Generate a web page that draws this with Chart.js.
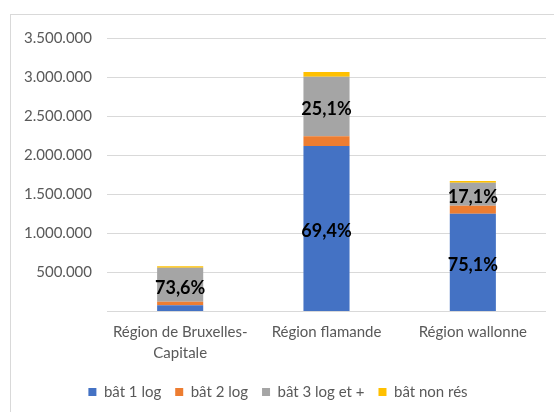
<!DOCTYPE html>
<html>
<head>
<meta charset="utf-8">
<script src="https://cdn.jsdelivr.net/npm/chart.js@4.4.0/dist/chart.umd.min.js"></script>
<style>
  html, body { margin: 0; padding: 0; background: #fff; overflow: hidden; width: 554px; height: 412px; }
  #frame { position: absolute; left: 10px; top: 14px; width: 568px; height: 420px; border-left: 1px solid #d9d9d9; border-top: 1px solid #d9d9d9; }
  #wrap { position: absolute; left: 10px; top: 14px; width: 568px; height: 398px; }
</style>
</head>
<body>
<div id="frame"></div>
<div id="wrap"><canvas id="chart"></canvas></div>
<script>
const regions = [['Région de Bruxelles-', 'Capitale'], 'Région flamande', 'Région wallonne'];
const seriesNames = ['bât 1 log', 'bât 2 log', 'bât 3 log et +', 'bât non rés'];
const bat1 = [80000, 2117000, 1252000];
const bat2 = [45000, 127000, 101000];
const bat3 = [435000, 761000, 295000];
const batNonRes = [20000, 59000, 22000];
const bat1Labels = ['', '69,4%', '75,1%'];
const bat3Labels = ['73,6%', '25,1%', '17,1%'];
const yTicks = [0, 500000, 1000000, 1500000, 2000000, 2500000, 3000000, 3500000];

const colors = ['#4472C4', '#ED7D31', '#A5A5A5', '#FFC000'];
const textGrey = '#595959';
const fontFamily = 'Lato, "Open Sans", sans-serif';

function fmt(v) {
  return String(v).replace(/\B(?=(\d{3})+(?!\d))/g, '.');
}

// percent labels drawn in the middle of their segment
const segmentLabels = {
  id: 'segmentLabels',
  afterDatasetsDraw(chart) {
    const ctx = chart.ctx;
    const sets = { 0: bat1Labels, 2: bat3Labels };
    ctx.save();
    ctx.font = 'bold 18px ' + fontFamily;
    ctx.fillStyle = '#000';
    ctx.textAlign = 'center';
    ctx.textBaseline = 'middle';
    Object.keys(sets).forEach((di) => {
      const meta = chart.getDatasetMeta(+di);
      sets[di].forEach((txt, i) => {
        if (!txt) return;
        const bar = meta.data[i];
        ctx.fillText(txt, bar.x, (bar.y + bar.base) / 2 + 3);
      });
    });
    ctx.restore();
  }
};

new Chart(document.getElementById('chart'), {
  type: 'bar',
  data: {
    labels: regions,
    datasets: [bat1, bat2, bat3, batNonRes].map((d, i) => ({
      label: seriesNames[i],
      data: d,
      backgroundColor: colors[i],
      borderWidth: 0,
      categoryPercentage: 0.315,
      barPercentage: 1,
    })),
  },
  options: {
    responsive: true,
    maintainAspectRatio: false,
    animation: false,
    layout: { padding: { top: 20, right: 32, bottom: 2.5, left: 0 } },
    plugins: {
      tooltip: { enabled: false },
      legend: {
        position: 'bottom',
        labels: {
          boxWidth: 8,
          boxHeight: 8,
          padding: 14,
          color: textGrey,
          font: { family: fontFamily, size: 15 },
        },
      },
    },
    scales: {
      x: {
        stacked: true,
        grid: { display: false, drawTicks: false },
        border: { display: false },
        afterFit: (s) => { s.height = 59; },
        ticks: {
          color: textGrey,
          padding: 10.5,
          maxRotation: 0,
          autoSkip: false,
          font: { family: fontFamily, size: 15, lineHeight: 1.38 },
        },
      },
      y: {
        stacked: true,
        min: yTicks[0],
        max: yTicks[yTicks.length - 1],
        afterBuildTicks: (s) => { s.ticks = yTicks.map((v) => ({ value: v })); },
        afterFit: (s) => { s.width = 97; },
        grid: { color: '#d9d9d9', drawTicks: false, lineWidth: 1 },
        border: { display: false },
        ticks: {
          color: textGrey,
          padding: 15,
          font: { family: fontFamily, size: 15 },
          callback: (v) => (v === 0 ? '' : fmt(v)),
        },
      },
    },
  },
  plugins: [segmentLabels],
});
</script>
</body>
</html>
